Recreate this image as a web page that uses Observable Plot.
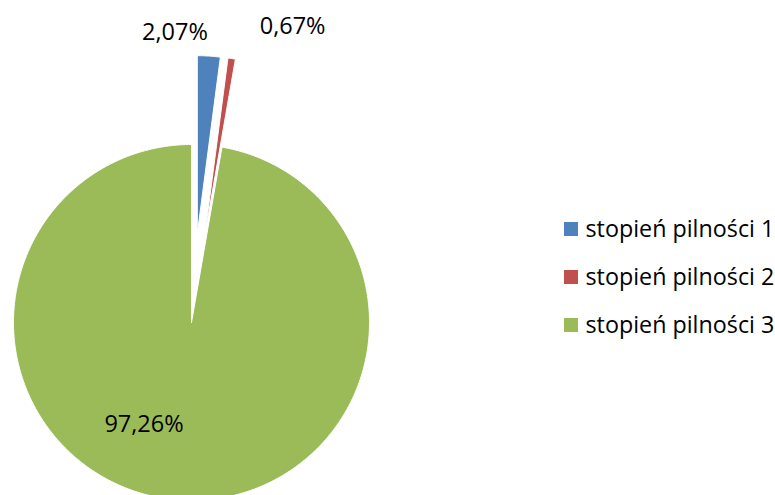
<!DOCTYPE html>
<html><head><meta charset="utf-8">
<script src="https://cdn.jsdelivr.net/npm/d3@7"></script>
<script src="https://cdn.jsdelivr.net/npm/@observablehq/plot@0.6"></script>
<style>body{margin:0;background:#fff}</style>
</head><body><div id="chart"></div>
<script>
const categories = ["stopień pilności 1", "stopień pilności 2", "stopień pilności 3"];
const shares = [2.07, 0.67, 97.26];
const labels = ["2,07%", "0,67%", "97,26%"];
const colors = ["#4F81BD", "#C0504D", "#9BBB59"];
const exploded = [true, true, false];

const W = 775, H = 495;
const cx = 191, cy = 322, r = 178, explode = 89;
const total = d3.sum(shares);

// slice geometry from data
let acc = 0;
const slices = shares.map((v, i) => {
  const a0 = acc / total * 2 * Math.PI;
  acc += v;
  const a1 = acc / total * 2 * Math.PI;
  const mid = (a0 + a1) / 2;
  const e = exploded[i] ? explode : 0;
  return {cat: categories[i], label: labels[i], a0, a1, mid,
          ox: cx + e * Math.sin(mid), oy: cy - e * Math.cos(mid)};
});

const pts = [];
slices.forEach(s => {
  const n = Math.max(6, Math.ceil((s.a1 - s.a0) / (Math.PI / 360)));
  pts.push({cat: s.cat, x: s.ox, y: s.oy});
  for (let k = 0; k <= n; k++) {
    const a = s.a0 + (s.a1 - s.a0) * k / n;
    pts.push({cat: s.cat, x: s.ox + r * Math.sin(a), y: s.oy - r * Math.cos(a)});
  }
  pts.push({cat: s.cat, x: s.ox, y: s.oy});
});

// label placement (outside end for exploded slices, inside for main)
const labelPos = slices.map((s, i) => {
  if (i === 0) return {t: s.label, x: s.ox + r * Math.sin(s.mid) - 1, y: s.oy - r * Math.cos(s.mid) - 24, anchor: "end"};
  if (i === 1) return {t: s.label, x: s.ox + r * Math.sin(s.mid) + 28, y: s.oy - r * Math.cos(s.mid) - 32, anchor: "start"};
  return {t: s.label, x: s.ox + 0.62 * r * Math.sin(s.mid) - 38, y: s.oy - 0.62 * r * Math.cos(s.mid) - 8, anchor: "middle"};
});

const legendX = 564, legendText = 585, legendY0 = 229, legendStep = 48, box = 14;
const legend = categories.map((c, i) => ({cat: c, y: legendY0 + i * legendStep}));

const fs = 23.5;
const chart = Plot.plot({
  width: W, height: H, margin: 0,
  style: {fontFamily: "'Open Sans', sans-serif", background: "#fff"},
  x: {domain: [0, W], range: [0, W], axis: null},
  y: {domain: [0, H], range: [0, H], axis: null},
  color: {domain: categories, range: colors},
  marks: [
    Plot.line(pts, {x: "x", y: "y", z: "cat", fill: "cat", stroke: "#fff", strokeWidth: 1, curve: "linear"}),
    Plot.text(labelPos.filter(d => d.anchor === "end"), {x: "x", y: "y", text: "t", textAnchor: "end", fontSize: fs, fill: "#000"}),
    Plot.text(labelPos.filter(d => d.anchor === "start"), {x: "x", y: "y", text: "t", textAnchor: "start", fontSize: fs, fill: "#000"}),
    Plot.text(labelPos.filter(d => d.anchor === "middle"), {x: "x", y: "y", text: "t", textAnchor: "middle", fontSize: fs, fill: "#000"}),
    Plot.rect(legend, {x1: () => legendX, x2: () => legendX + box, y1: d => d.y - box / 2, y2: d => d.y + box / 2, fill: "cat"}),
    Plot.text(legend, {x: () => legendText, y: "y", text: "cat", textAnchor: "start", fontSize: 23.3, fill: "#000"})
  ]
});
document.getElementById("chart").appendChild(chart);
</script>
</body></html>
